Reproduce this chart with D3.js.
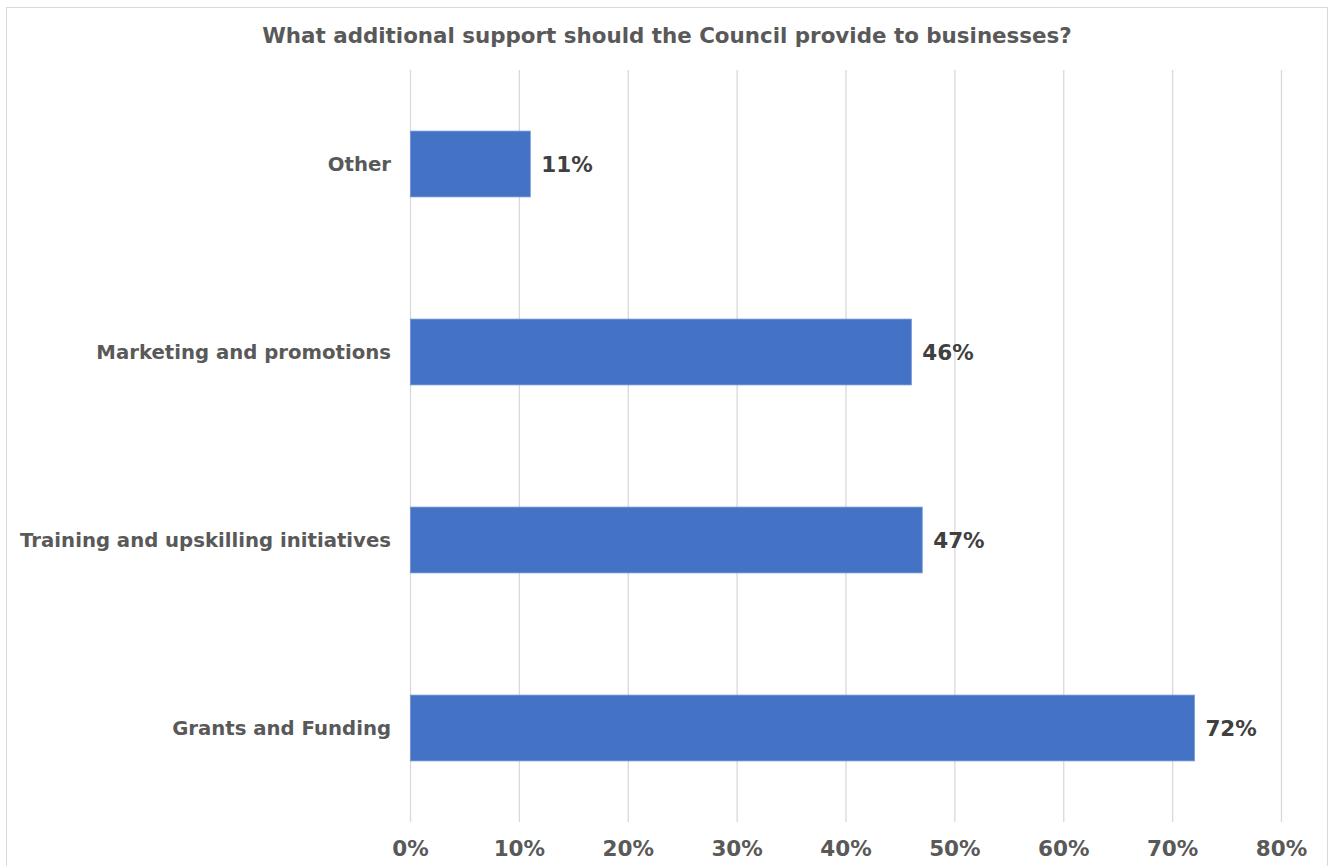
<!DOCTYPE html>
<html><head><meta charset="utf-8">
<script src="https://cdn.jsdelivr.net/npm/d3@7"></script>
<style>body{margin:0;background:#fff}svg{display:block}text{font-family:"DejaVu Sans",Verdana,sans-serif;font-weight:bold}</style>
</head><body>
<svg id="c" width="1332" height="866"></svg>
<script>
const categories = ["Other","Marketing and promotions","Training and upskilling initiatives","Grants and Funding"];
const values = [11,46,47,72];
const tickValues = [0,10,20,30,40,50,60,70,80];
const title = "What additional support should the Council provide to businesses?";

const svg = d3.select("#c");
svg.append("rect").attr("x",6.5).attr("y",7.5).attr("width",1321).attr("height",870)
  .attr("fill","#fff").attr("stroke","#d9d9d9").attr("stroke-width",1);

const x = d3.scaleLinear().domain([0,80]).range([410.5,1281.5]);
const y = d3.scaleBand().domain(categories).range([70,822]).paddingInner(0.65).paddingOuter(0.325);

svg.append("text").attr("x",667).attr("y",43).attr("text-anchor","middle")
  .attr("font-size",21.4).attr("fill","#595959").text(title);

svg.append("g").selectAll("line").data(tickValues).join("line")
  .attr("x1",d=>x(d)).attr("x2",d=>x(d)).attr("y1",70).attr("y2",822)
  .attr("stroke","#d9d9d9").attr("stroke-width",1.3);

svg.append("g").selectAll("text").data(tickValues).join("text")
  .attr("x",d=>x(d)).attr("y",856).attr("text-anchor","middle")
  .attr("font-size",21.5).attr("fill","#595959").text(d=>d+"%");

svg.append("g").selectAll("rect").data(values).join("rect")
  .attr("x",x(0)).attr("y",(d,i)=>y(categories[i]))
  .attr("width",d=>x(d)-x(0)).attr("height",y.bandwidth())
  .attr("fill","#4472c4").attr("stroke","#6f93d3").attr("stroke-width",0.8);

svg.append("g").selectAll("text").data(values).join("text")
  .attr("x",d=>x(d)+11).attr("y",(d,i)=>y(categories[i])+y.bandwidth()/2)
  .attr("dy","0.35em").attr("font-size",21.5).attr("fill","#404040").text(d=>d+"%");

svg.append("g").selectAll("text").data(categories).join("text")
  .attr("x",391).attr("y",d=>y(d)+y.bandwidth()/2).attr("dy","0.35em")
  .attr("text-anchor","end").attr("font-size",19.7).attr("fill","#595959").text(d=>d);
</script>
</body></html>
